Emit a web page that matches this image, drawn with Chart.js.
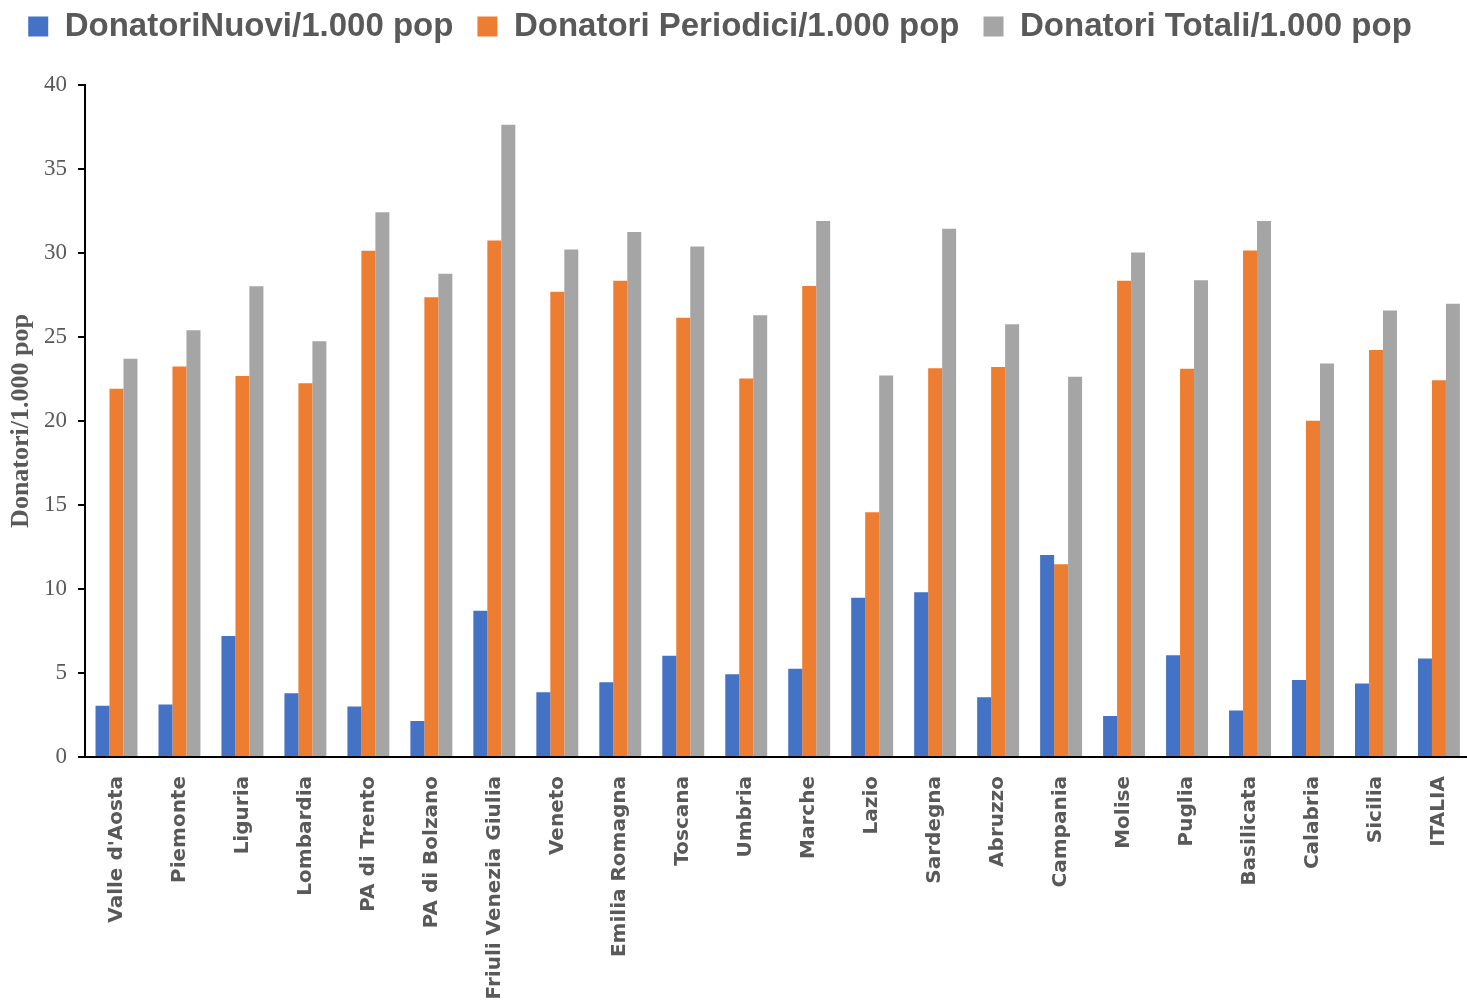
<!DOCTYPE html>
<html>
<head>
<meta charset="utf-8">
<title>Donatori per 1.000 abitanti</title>
<script src="https://cdn.jsdelivr.net/npm/chart.js@4/dist/chart.umd.min.js"></script>
<style>
  html, body { margin: 0; padding: 0; background: #fff; overflow: hidden; }
  #wrap { width: 1474px; height: 1006px; position: relative; }
</style>
</head>
<body>
<div id="wrap"><canvas id="chart"></canvas></div>
<script>
// Regioni (categorie asse x)
const regioni = [
  'Valle d\'Aosta', 'Piemonte', 'Liguria', 'Lombardia', 'PA di Trento',
  'PA di Bolzano', 'Friuli Venezia Giulia', 'Veneto', 'Emilia Romagna',
  'Toscana', 'Umbria', 'Marche', 'Lazio', 'Sardegna', 'Abruzzo',
  'Campania', 'Molise', 'Puglia', 'Basilicata', 'Calabria', 'Sicilia', 'ITALIA'
];

// valori
const donatoriNuovi = [
  3.05, 3.13, 7.2, 3.79, 3.0, 2.14, 8.7, 3.86, 4.45, 6.03, 4.93,
  5.26, 9.48, 9.81, 3.56, 12.03, 2.44, 6.05, 2.77, 4.58, 4.37, 5.87
];
const donatoriPeriodici = [
  21.92, 23.24, 22.68, 22.25, 30.13, 27.36, 30.74, 27.69, 28.35, 26.14, 22.53,
  28.04, 14.57, 23.14, 23.21, 11.47, 28.35, 23.11, 30.15, 20.01, 24.23, 22.43
];
const donatoriTotali = [
  23.7, 25.4, 28.02, 24.74, 32.42, 28.76, 37.63, 30.21, 31.25, 30.38, 26.29,
  31.91, 22.71, 31.45, 25.76, 22.63, 30.03, 28.38, 31.91, 23.42, 26.57, 26.98
];

const GREY_TEXT = '#595959';

/* ---------- legend: fixed height, nudged up/left like the original ---------- */
const legendTweak = {
  id: 'legendTweak',
  beforeInit(chart) {
    const legend = chart.legend;
    const fit = legend.fit;
    legend.fit = function () {
      fit.bind(legend)();
      this.height = 85;
    };
    const draw = legend.draw;
    legend.draw = function () {
      const ctx = chart.ctx;
      ctx.save();
      ctx.translate(-16, -14);
      draw.bind(legend)();
      ctx.restore();
    };
  }
};

new Chart(document.getElementById('chart').getContext('2d'), {
  type: 'bar',
  data: {
    labels: regioni,
    datasets: [
      { label: 'DonatoriNuovi/1.000 pop', data: donatoriNuovi, backgroundColor: '#4472c4' },
      { label: 'Donatori Periodici/1.000 pop', data: donatoriPeriodici, backgroundColor: '#ed7d31' },
      { label: 'Donatori Totali/1.000 pop', data: donatoriTotali, backgroundColor: '#a5a5a5' }
    ]
  },
  options: {
    responsive: true,
    maintainAspectRatio: false,
    animation: false,
    layout: { padding: { left: 0, right: 2, top: 0, bottom: 0 } },
    datasets: { bar: { categoryPercentage: 0.666, barPercentage: 1.0 } },
    plugins: {
      legend: {
        position: 'top',
        labels: {
          boxWidth: 20,
          boxHeight: 20,
          padding: 24,
          color: GREY_TEXT,
          font: { family: 'Liberation Sans', size: 33, weight: 'bold' }
        }
      },
      tooltip: { enabled: false }
    },
    scales: {
      x: {
        grid: { display: false },
        border: { color: '#000', width: 2 },
        ticks: {
          minRotation: 90,
          maxRotation: 90,
          autoSkip: false,
          padding: 11,
          color: GREY_TEXT,
          font: { family: 'DejaVu Sans', size: 20, weight: 'bold' }
        },
        afterFit: s => { s.height = 249; }
      },
      y: {
        min: 0,
        max: 40,
        grid: { display: true, drawOnChartArea: false, drawTicks: true, tickLength: 7, color: '#000', lineWidth: 2 },
        border: { color: '#000', width: 2 },
        ticks: {
          stepSize: 5,
          padding: 11,
          color: GREY_TEXT,
          font: { family: 'Liberation Serif', size: 23 }
        },
        title: {
          display: true,
          text: 'Donatori/1.000 pop',
          color: GREY_TEXT,
          padding: { top: 6, bottom: 0 },
          font: { family: 'Liberation Serif', size: 26, weight: 'bold' }
        },
        afterFit: s => { s.width = 85; }
      }
    }
  },
  plugins: [legendTweak]
});
</script>
</body>
</html>
